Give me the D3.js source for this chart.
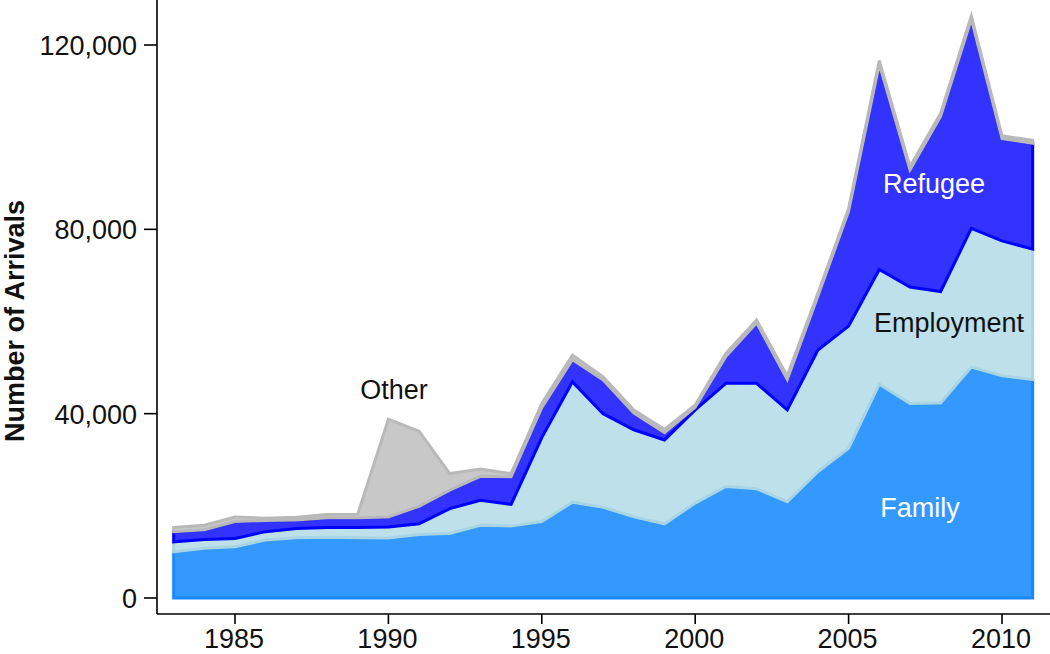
<!DOCTYPE html>
<html>
<head>
<meta charset="utf-8">
<script src="https://cdn.jsdelivr.net/npm/d3@7/dist/d3.min.js"></script>
<style>
  html, body { margin: 0; padding: 0; background: #fff; }
  svg { display: block; }
  text { font-family: "Liberation Sans", Arial, Helvetica, sans-serif; }
</style>
</head>
<body>
<svg id="chart" width="1050" height="654"></svg>
<script>
// ---- Data ----
const years = [1983,1984,1985,1986,1987,1988,1989,1990,1991,1992,1993,1994,1995,1996,1997,1998,1999,2000,2001,2002,2003,2004,2005,2006,2007,2008,2009,2010,2011];
const family     = [10000,10800,11100,12600,13100,13200,13100,13000,13800,14000,15800,15600,16600,20800,19700,17600,16100,20600,24200,23700,20900,27400,32500,46400,42200,42300,50100,48200,47400];
const employment = [2200,1900,1800,1800,2000,2100,2200,2400,2300,5400,5400,4700,18200,26100,20300,18900,18200,20200,22400,22900,19900,26400,26500,24900,25300,24200,30100,29300,28300];
const refugee    = [2200,2100,3700,2400,1800,2100,2100,2200,3800,4000,5200,6000,6500,4800,7300,3600,1600,600,5800,13100,6600,11700,24900,44500,25400,38000,45400,22200,23000];
const other      = [900,1000,1000,500,600,700,800,21200,16300,3600,1600,700,900,1000,700,700,700,500,700,600,800,600,600,800,700,700,700,600,600];

const seriesNames = ["Family", "Employment", "Refugee", "Other"];
const yTicks = [0, 40000, 80000, 120000];
const xTicks = [1985, 1990, 1995, 2000, 2005, 2010];
const yTitle = "Number of Arrivals";

// ---- Styles ----
const fills   = {Family: "#3399ff", Employment: "#bde0ea", Refugee: "#3333ff", Other: "#c8c8c8"};
const strokes = {Family: "#1a88ff", Employment: "#a8d5e4", Refugee: "#0000ff", Other: "#b9b9b9"};

const rows = years.map((y, i) => ({
  year: y, Family: family[i], Employment: employment[i], Refugee: refugee[i], Other: other[i]
}));

const svg = d3.select("#chart");

const x = d3.scaleLinear().domain([1985, 2010]).range([235, 1002]);
const y = d3.scaleLinear().domain([0, 120000]).range([598, 45]);

const stack = d3.stack().keys(seriesNames);
const layers = stack(rows);

const area = d3.area()
  .x(d => x(d.data.year))
  .y0(d => y(d[0]))
  .y1(d => y(d[1]));

svg.append("g").selectAll("path")
  .data(layers)
  .join("path")
  .attr("d", area)
  .attr("fill", d => fills[d.key])
  .attr("stroke", d => strokes[d.key])
  .attr("stroke-width", 3)
  .attr("stroke-linejoin", "miter");

// ---- Axes ----
const axisX0 = 157, axisY0 = 614;

svg.append("line")
  .attr("x1", axisX0).attr("x2", axisX0)
  .attr("y1", 0).attr("y2", axisY0)
  .attr("stroke", "#000").attr("stroke-width", 1.6);

svg.append("line")
  .attr("x1", axisX0).attr("x2", 1050)
  .attr("y1", axisY0).attr("y2", axisY0)
  .attr("stroke", "#000").attr("stroke-width", 1.6);

const fmt = d3.format(",");
const yg = svg.append("g");
yTicks.forEach(t => {
  yg.append("line")
    .attr("x1", axisX0 - 13).attr("x2", axisX0)
    .attr("y1", y(t)).attr("y2", y(t))
    .attr("stroke", "#000").attr("stroke-width", 1.6);
  yg.append("text")
    .attr("x", 137).attr("y", y(t) + 10)
    .attr("text-anchor", "end")
    .attr("font-size", 27)
    .attr("fill", "#111")
    .text(fmt(t));
});

const xg = svg.append("g");
xTicks.forEach(t => {
  xg.append("line")
    .attr("x1", x(t)).attr("x2", x(t))
    .attr("y1", axisY0).attr("y2", axisY0 + 10)
    .attr("stroke", "#000").attr("stroke-width", 1.6);
  xg.append("text")
    .attr("x", x(t) - 1).attr("y", 648)
    .attr("text-anchor", "middle")
    .attr("font-size", 27)
    .attr("fill", "#111")
    .text(t);
});

svg.append("text")
  .attr("transform", "translate(24,321) rotate(-90)")
  .attr("text-anchor", "middle")
  .attr("font-size", 27)
  .attr("font-weight", "bold")
  .attr("fill", "#111")
  .text(yTitle);

// ---- Series labels ----
const labels = [
  {text: "Other", x: 394, y: 399, color: "#111"},
  {text: "Refugee", x: 934, y: 193, color: "#fff"},
  {text: "Employment", x: 949, y: 332, color: "#111"},
  {text: "Family", x: 920, y: 517, color: "#fff"}
];
svg.append("g").selectAll("text")
  .data(labels)
  .join("text")
  .attr("x", d => d.x).attr("y", d => d.y)
  .attr("text-anchor", "middle")
  .attr("font-size", 27)
  .attr("fill", d => d.color)
  .text(d => d.text);
</script>
</body>
</html>
